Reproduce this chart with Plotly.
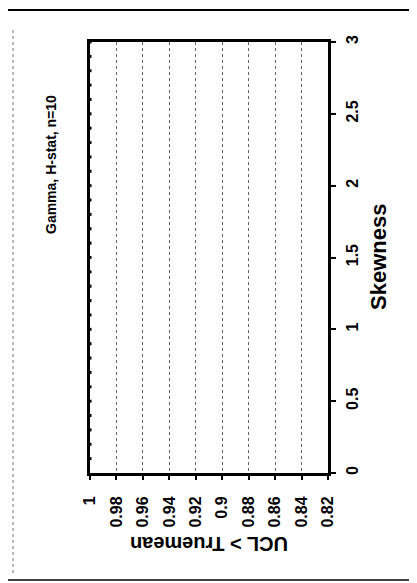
import plotly.graph_objects as go

# Data (chart is rotated 90 degrees in the scan)
skewness = [0.1, 0.2, 0.3, 0.4, 0.5, 0.6, 0.7, 0.8, 0.9, 1.0,
            1.1, 1.2, 1.3, 1.4, 1.5, 1.6, 1.7, 1.8, 1.9, 2.0,
            2.1, 2.2, 2.3, 2.4, 2.5, 2.6, 2.7, 2.8, 2.9, 3.0]
coverage = [1.0, 1.0, 1.0, 1.0, 1.0, 1.0, 1.0, 1.0, 1.0, 1.0,
            1.0, 1.0, 1.0, 1.0, 1.0, 1.0, 1.0, 1.0, 1.0, 1.0,
            1.0, 1.0, 1.0, 1.0, 1.0, 1.0, 1.0, 1.0, 1.0, 1.0]
cov_ticks = [1, 0.98, 0.96, 0.94, 0.92, 0.9, 0.88, 0.86, 0.84, 0.82]
cov_labels = ["1", "0.98", "0.96", "0.94", "0.92", "0.9", "0.88", "0.86", "0.84", "0.82"]
skew_ticks = [0, 0.5, 1, 1.5, 2, 2.5, 3]
skew_labels = ["0", "0.5", "1", "1.5", "2", "2.5", "3"]

FONT = "Liberation Sans, Arial, sans-serif"

fig = go.Figure()
fig.add_trace(go.Scatter(
    x=coverage, y=skewness, mode="markers",
    marker=dict(symbol="square", size=3, color="black"),
    cliponaxis=False, showlegend=False,
))

OFF = 8  # default page body margin
W, H = 417 - OFF, 583 - OFF
L, R, T, B = 90 - OFF, 328 - OFF, 42 - OFF, 473 - OFF


def px_x(p):
    return (p - OFF - L) / (R - L)


def px_y(p):
    return (B - (p - OFF)) / (B - T)


fig.update_layout(
    width=W, height=H,
    margin=dict(l=L, r=W - R, t=T, b=H - B, autoexpand=False),
    paper_bgcolor="white", plot_bgcolor="white",
    font=dict(family=FONT, color="black"),
    showlegend=False,
    xaxis=dict(
        range=[1, 0.82], tickvals=cov_ticks, ticktext=cov_labels,
        tickangle=-90, tickfont=dict(size=16, family=FONT, weight="bold"),
        showline=True, linecolor="black", linewidth=3, mirror=True,
        ticks="outside", ticklen=4, tickwidth=1.5, tickcolor="black",
        ticklabelstandoff=10,
        showgrid=True, gridcolor="#666666", griddash="dot", gridwidth=1,
        zeroline=False,
    ),
    yaxis=dict(
        range=[0, 3], tickvals=skew_ticks, ticktext=skew_labels, side="right",
        tickangle=-90, tickfont=dict(size=16, family=FONT, weight="bold"),
        showline=True, linecolor="black", linewidth=3, mirror=True,
        ticks="outside", ticklen=5, tickwidth=1.5, tickcolor="black",
        ticklabelstandoff=3,
        showgrid=False, zeroline=False,
    ),
    annotations=[
        dict(text="Gamma, H-stat, n=10", xref="paper", yref="paper",
             x=px_x(51), y=px_y(165), xanchor="center", yanchor="middle",
             textangle=-90, showarrow=False,
             font=dict(size=14, family=FONT, weight="bold")),
        dict(text="Skewness", xref="paper", yref="paper",
             x=px_x(378), y=px_y(257), xanchor="center", yanchor="middle",
             textangle=-90, showarrow=False,
             font=dict(size=22, family=FONT, weight="bold")),
        dict(text="UCL > Truemean", xref="paper", yref="paper",
             x=px_x(209), y=px_y(544), xanchor="center", yanchor="middle",
             textangle=180, showarrow=False,
             font=dict(size=20, family=FONT, weight="bold")),
    ],
    shapes=[
        dict(type="line", xref="paper", yref="paper",
             x0=px_x(0), x1=px_x(417), y0=px_y(10), y1=px_y(10),
             line=dict(color="black", width=2)),
        dict(type="line", xref="paper", yref="paper",
             x0=px_x(0), x1=px_x(417), y0=px_y(580), y1=px_y(580),
             line=dict(color="black", width=1.5)),
        dict(type="line", xref="paper", yref="paper",
             x0=px_x(13), x1=px_x(13), y0=px_y(30), y1=px_y(575),
             line=dict(color="#777777", width=1, dash="dot")),
    ],
)

fig.write_html("out.html")
